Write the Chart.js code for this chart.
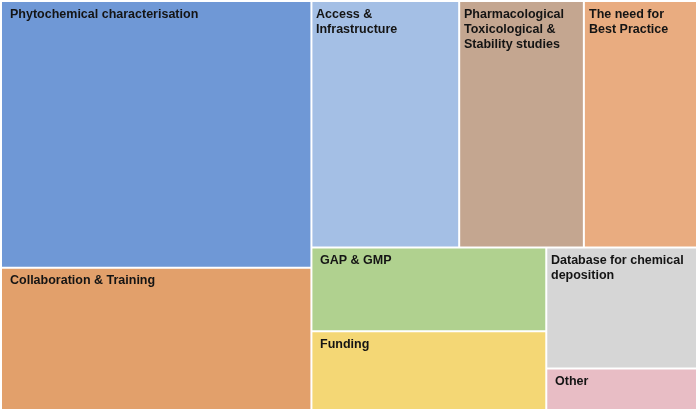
<!DOCTYPE html>
<html>
<head>
<meta charset="utf-8">
<script src="https://cdn.jsdelivr.net/npm/chart.js@4/dist/chart.umd.min.js"></script>
<style>
  html, body { margin: 0; padding: 0; background: #ffffff; }
  #wrap { width: 699px; height: 411px; }
</style>
</head>
<body>
<div id="wrap"><canvas id="c" width="699" height="411"></canvas></div>
<script>
// ---- data (share of responses, %) ----
const categories = [
  'Phytochemical characterisation',
  'Collaboration & Training',
  'Access & Infrastructure',
  'Pharmacological Toxicological & Stability studies',
  'The need for Best Practice',
  'GAP & GMP',
  'Funding',
  'Database for chemical deposition',
  'Other'
];
const values = [29.1, 15.5, 12.8, 10.8, 9.8, 6.9, 6.5, 6.4, 2.2];
const colors = ['#6f98d6', '#e2a06b', '#a4bfe5', '#c4a690', '#e9ac80',
                '#b0d18f', '#f4d775', '#d6d6d6', '#e8bdc5'];

// ---- treemap layout: rows along the shorter side, grown while cells stay squarish ----
function worstRatio(row, side) {
  const s = row.reduce((a, b) => a + b, 0);
  const thick = s / side;
  let worst = 0;
  for (const a of row) {
    const len = a / thick;
    worst = Math.max(worst, thick / len, len / thick);
  }
  return worst;
}
function layoutTreemap(vals, W, H, maxRatio) {
  const total = vals.reduce((a, b) => a + b, 0);
  const areas = vals.map(v => v * W * H / total);
  const rects = [];
  let x = 0, y = 0, w = W, h = H, i = 0;
  while (i < areas.length) {
    const vertical = w >= h;
    const side = vertical ? h : w;
    let row = [areas[i]];
    let worst = worstRatio(row, side);
    let j = i + 1;
    while (j < areas.length) {
      const cand = row.concat(areas[j]);
      const cw = worstRatio(cand, side);
      if (cw <= maxRatio || cw < worst) { row = cand; worst = cw; j++; } else break;
    }
    const rowSum = row.reduce((a, b) => a + b, 0);
    const thick = j >= areas.length ? (vertical ? w : h) : rowSum / side;
    let off = 0;
    for (const a of row) {
      const len = a / thick;
      if (vertical) rects.push({ x: x, y: y + off, w: thick, h: len });
      else rects.push({ x: x + off, y: y, w: len, h: thick });
      off += len;
    }
    if (vertical) { x += thick; w -= thick; } else { y += thick; h -= thick; }
    i = j;
  }
  return rects;
}

function wrapText(ctx, text, maxW) {
  const words = text.split(' ');
  const lines = [];
  let cur = '';
  for (const wd of words) {
    const t = cur ? cur + ' ' + wd : wd;
    if (cur && ctx.measureText(t).width > maxW) { lines.push(cur); cur = wd; }
    else cur = t;
  }
  if (cur) lines.push(cur);
  return lines;
}

// ---- custom Chart.js controller drawing the cells as bar elements on linear scales ----
class TreemapController extends Chart.DatasetController {
  initialize() { this.enableOptionSharing = false; super.initialize(); }
  update(mode) {
    const meta = this._cachedMeta;
    this.updateElements(meta.data, 0, meta.data.length, mode);
  }
  updateElements(elems, start, count, mode) {
    const meta = this._cachedMeta;
    const xs = meta.xScale, ys = meta.yScale;
    const ds = this.getDataset();
    const W = Math.abs(xs.getPixelForValue(1) - xs.getPixelForValue(0));
    const H = Math.abs(ys.getPixelForValue(1) - ys.getPixelForValue(0));
    const rects = layoutTreemap(ds.data.map(Number), W, H, ds.maxRatio || 3.5);
    for (let i = start; i < start + count; i++) {
      const r = rects[i];
      const left = xs.getPixelForValue(r.x / W);
      const right = xs.getPixelForValue((r.x + r.w) / W);
      const top = ys.getPixelForValue(r.y / H);
      const bottom = ys.getPixelForValue((r.y + r.h) / H);
      const props = {
        x: (left + right) / 2, y: top, base: bottom,
        width: right - left, height: bottom - top, horizontal: false,
        borderSkipped: { top: false, left: false, bottom: false, right: false },
        inflateAmount: 0,
        enableBorderRadius: false,
        options: this.resolveDataElementOptions(i, mode)
      };
      this.updateElement(elems[i], i, props, mode);
    }
  }
  draw() {
    const meta = this._cachedMeta;
    const ctx = this.chart.ctx;
    const labels = this.chart.data.labels;
    meta.data.forEach(el => el.draw(ctx));
    ctx.save();
    ctx.font = 'bold 12.5px "Liberation Sans", Arial, sans-serif';
    ctx.fillStyle = '#141414';
    ctx.textAlign = 'left';
    ctx.textBaseline = 'alphabetic';
    meta.data.forEach((el, i) => {
      const left = el.x - el.width / 2;
      const top = el.y;
      const text = labels[i];
      let pad = 9, lines = [text];
      if (ctx.measureText(text).width > el.width - 18) {
        pad = 5;
        lines = wrapText(ctx, text, el.width - 10);
      }
      lines.forEach((ln, k) => ctx.fillText(ln, Math.round(left + pad), Math.round(top + 16.5 + k * 15)));
    });
    ctx.restore();
  }
}
TreemapController.id = 'treemap';
TreemapController.defaults = { datasetElementType: false, dataElementType: 'bar' };
TreemapController.overrides = {
  scales: {
    x: { type: 'linear', display: false, min: 0, max: 1 },
    y: { type: 'linear', display: false, min: 0, max: 1, reverse: true }
  }
};
Chart.register(TreemapController);

new Chart(document.getElementById('c'), {
  type: 'treemap',
  data: {
    labels: categories,
    datasets: [{
      data: values,
      backgroundColor: colors,
      borderColor: '#ffffff',
      borderWidth: 1,
      borderSkipped: false,
      inflateAmount: 0,
      borderRadius: 0,
      maxRatio: 3.5
    }]
  },
  options: {
    responsive: false,
    animation: false,
    events: [],
    layout: { padding: { left: 1, top: 1, right: 2, bottom: 1 } },
    scales: {
      x: { type: 'linear', display: false, min: 0, max: 1 },
      y: { type: 'linear', display: false, min: 0, max: 1, reverse: true }
    },
    plugins: { legend: { display: false }, tooltip: { enabled: false } }
  }
});
</script>
</body>
</html>
